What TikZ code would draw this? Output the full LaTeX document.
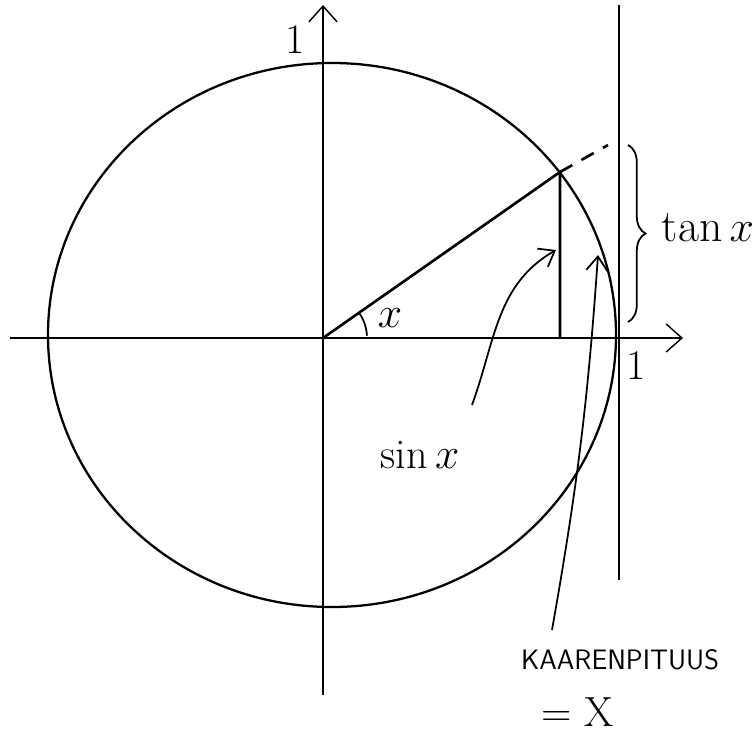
\documentclass[tikz,border=0pt]{standalone}
\usepackage{fontspec}
\usetikzlibrary{arrows.meta,decorations.pathreplacing}
\begin{document}
\begin{tikzpicture}[x=0.02cm, y=-0.02cm,
    axis/.style={line width=0.8pt, -{Straight Barb[length=9pt, width=16pt]}},
    pointer/.style={line width=1pt, -{Straight Barb[length=8pt, width=12pt]}},
    hand/.style={font=\fontsize{24}{28}\selectfont}]
    \useasboundingbox (0,0) rectangle (756,746);
    % unit circle and axes
    \draw[line width=1.3pt] (332,335) ellipse [x radius=284, y radius=272];
    \coordinate (O) at (323,338);
    \draw[axis] (10,338) -- (683,338);
    \draw[axis] (323,695) -- (323,5);
    \draw[line width=0.7pt] (619,5) -- (619,580);
    % angle x
    \coordinate (P) at (560,172);
    \coordinate (Q) at (560,338);
    \coordinate (T) at (608,145);
    \draw[line width=1.5pt] (O) -- (P) -- (Q);
    \draw[line width=1.5pt, dashed, dash pattern=on 8pt off 6pt] (P) -- (T);
    \draw[line width=1pt] (O) ++(-35:44) arc [start angle=-35, end angle=-3, radius=44];
    % labels
    \node[hand] (oney) at (295,40) {1};
    \node[hand] (onex) at (636,366) {1};
    \node[hand] (ang) at (390,318) {$x$};
    \node[hand] (sinlbl) at (420,455) {$\sin x$};
    \node[hand, font=\fontsize{26}{30}\selectfont] (tanlbl) at (708,228) {$\tan x$};
    \node[font=\fontsize{16}{19}\selectfont\sffamily] (arclbl) at (620,660) {KAARENPITUUS};
    \node[hand] (eqx) at (578,712) {= X};
    \draw[line width=1pt, decorate, decoration={brace, amplitude=10pt}] (628,145) -- (628,322);
    % pointers
    \coordinate (sinfoot) at (472,405);
    \coordinate (sinhead) at (556,250);
    \coordinate (arcfoot) at (552,630);
    \coordinate (archead) at (598,255);
    \draw[pointer] (sinfoot) to[out=70, in=210] (sinhead);
    \draw[pointer] (arcfoot) to[bend right=3] (archead);
\end{tikzpicture}
\end{document}
